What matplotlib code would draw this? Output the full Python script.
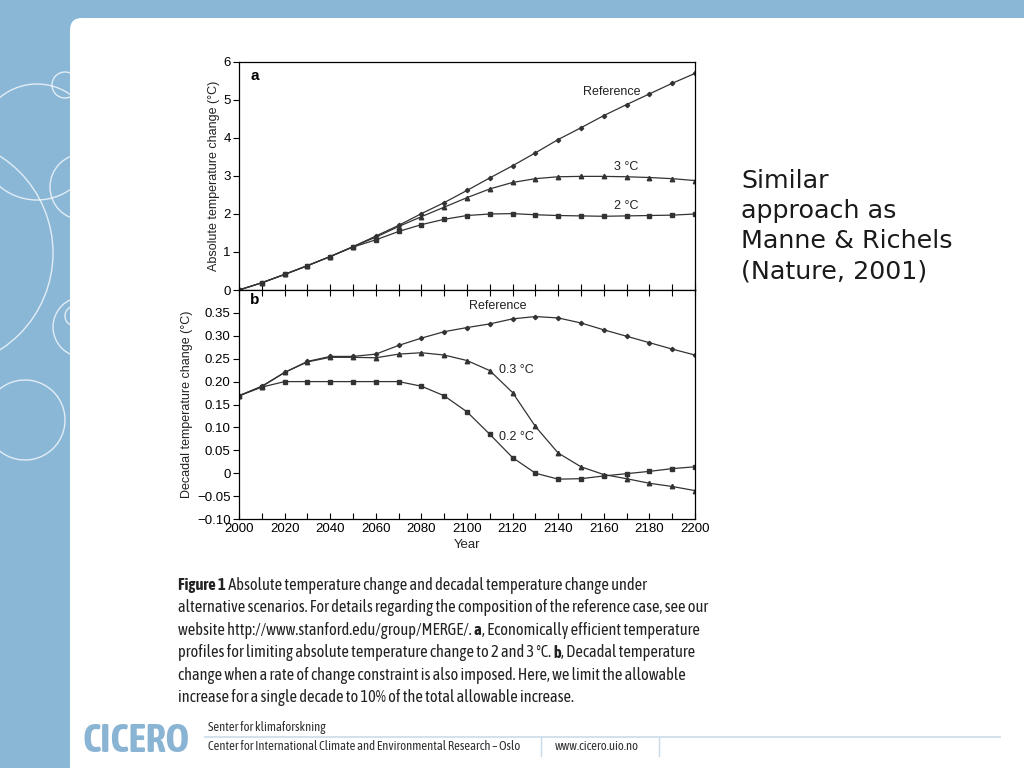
import matplotlib
matplotlib.use("Agg")
import matplotlib.pyplot as plt
from matplotlib import font_manager
from matplotlib.patches import Circle, FancyBboxPatch
from matplotlib.ticker import MultipleLocator, FuncFormatter

# ---- data ----
years = list(range(2000, 2201, 10))

abs_ref = [0, 0.19, 0.41, 0.64, 0.88, 1.14, 1.42, 1.70, 2.01, 2.30, 2.62,
           2.95, 3.27, 3.61, 3.96, 4.27, 4.59, 4.88, 5.16, 5.44, 5.70]
abs_3c = [0, 0.19, 0.41, 0.64, 0.88, 1.14, 1.39, 1.67, 1.93, 2.18, 2.43,
          2.66, 2.83, 2.93, 2.98, 2.99, 2.99, 2.98, 2.96, 2.93, 2.88]
abs_2c = [0, 0.19, 0.41, 0.64, 0.88, 1.13, 1.32, 1.54, 1.72, 1.86, 1.96,
          2.00, 2.01, 1.98, 1.96, 1.95, 1.94, 1.95, 1.96, 1.97, 2.00]

dec_ref = [0.169, 0.190, 0.220, 0.244, 0.255, 0.255, 0.260, 0.279, 0.295, 0.309, 0.318,
           0.326, 0.337, 0.342, 0.339, 0.328, 0.313, 0.299, 0.285, 0.271, 0.258]
dec_03 = [0.169, 0.189, 0.220, 0.243, 0.253, 0.253, 0.252, 0.260, 0.263, 0.258, 0.246,
          0.224, 0.176, 0.102, 0.044, 0.014, -0.003, -0.012, -0.022, -0.029, -0.038]
dec_02 = [0.169, 0.188, 0.200, 0.200, 0.200, 0.200, 0.200, 0.200, 0.190, 0.169, 0.134,
          0.085, 0.034, 0.000, -0.013, -0.012, -0.006, -0.001, 0.004, 0.010, 0.014]

caption = [
    [("Figure 1", "bold"), (" Absolute temperature change and decadal temperature change under", "normal")],
    [("alternative scenarios. For details regarding the composition of the reference case, see our", "normal")],
    [("website http://www.stanford.edu/group/MERGE/. ", "normal"), ("a", "bold"),
     (", Economically efficient temperature", "normal")],
    [("profiles for limiting absolute temperature change to 2 and 3 °C. ", "normal"), ("b", "bold"),
     (", Decadal temperature", "normal")],
    [("change when a rate of change constraint is also imposed. Here, we limit the allowable", "normal")],
    [("increase for a single decade to 10% of the total allowable increase.", "normal")],
]
side_text = ["Similar", "approach as", "Manne & Richels", "(Nature, 2001)"]


# ---- fonts: prefer a condensed face (with a bold weight) if one is installed ----
def wnum(w):
    return w if isinstance(w, (int, float)) else font_manager.weight_dict.get(w, 400)


cands = {}
for f in font_manager.fontManager.ttflist:
    if "Narrow" in f.name or "Condensed" in f.name:
        cands.setdefault(f.name, set()).add(wnum(f.weight))
narrow = "Liberation Sans"
narrow_bold = "Liberation Sans"
bold_scale = 1.0
with_bold = [n for n, ws in cands.items() if max(ws) >= 600 and min(ws) <= 500]
if with_bold:
    narrow = narrow_bold = sorted(with_bold)[0]
elif cands:
    narrow = sorted(cands)[0]
    bold_scale = 0.86
plt.rcParams["font.family"] = ["Liberation Sans", "DejaVu Sans"]

BLUE = "#8bb7d7"
LINE = "#333333"

fig = plt.figure(figsize=(10.24, 7.68), dpi=100)
fig.patch.set_facecolor(BLUE)

# background layer in pixel coordinates
bg = fig.add_axes([0, 0, 1, 1])
bg.set_xlim(0, 1024)
bg.set_ylim(768, 0)
bg.axis("off")

for cx, cy, r in [(65, 85, 13), (37, 142, 58), (-62, 253, 115), (83, 187, 33),
                  (75, 316, 10), (83, 327, 30), (25, 420, 40)]:
    bg.add_patch(Circle((cx, cy), r, fill=False, ec="white", lw=1.0, alpha=0.75))

bg.add_patch(FancyBboxPatch((70, 18), 1100, 900, boxstyle="round,pad=0,rounding_size=12",
                            fc="white", ec="none", zorder=2))

renderer = fig.canvas.get_renderer()


def fam(weight):
    return narrow_bold if weight == "bold" else narrow


def width_of(s, weight, size, family=None):
    t = bg.text(0, 0, s, fontsize=size, family=family or fam(weight), weight=weight)
    w = t.get_window_extent(renderer).width
    t.remove()
    return w


def fit_size(s, target, weight="normal", family=None):
    return 10 * target / width_of(s, weight, 10, family)


# side text
side_size = fit_size("Manne & Richels", 211, family="DejaVu Sans")
for i, s in enumerate(side_text):
    bg.text(741, 181 + i * 30, s, fontsize=side_size, family="DejaVu Sans", color="#1a1a1a",
            va="center", ha="left", zorder=3)

# caption with bold pieces
cap_size = fit_size(caption[1][0][0], 532)
space_w = width_of("a a", "normal", cap_size) - width_of("aa", "normal", cap_size)
for i, parts in enumerate(caption):
    x = 178
    y = 585 + i * 22.6
    for txt, wt in parts:
        size = cap_size * (bold_scale if wt == "bold" else 1.0)
        bg.text(x, y, txt, fontsize=size, family=fam(wt), weight=wt,
                color="#222222", va="center", ha="left", zorder=3)
        stripped = txt.rstrip(" ")
        x += width_of(stripped, wt, size) + (len(txt) - len(stripped)) * space_w

# footer
logo_size = fit_size("CICERO", 107, weight="bold")
bg.text(83, 741, "CICERO", fontsize=logo_size, family=narrow_bold, weight="bold",
        color="#8ab4d4", va="center", ha="left", zorder=3)
foot_line = "Center for International Climate and Environmental Research \u2013 Oslo"
foot_size = fit_size(foot_line, 316)
bg.text(208, 728, "Senter for klimaforskning", fontsize=foot_size, family=narrow,
        color="#333333", va="center", ha="left", zorder=3)
bg.text(208, 747, foot_line, fontsize=foot_size, family=narrow,
        color="#333333", va="center", ha="left", zorder=3)
bg.text(555, 747, "www.cicero.uio.no", fontsize=foot_size, family=narrow,
        color="#333333", va="center", ha="left", zorder=3)
bg.plot([205, 1000], [737, 737], color="#c9dbe8", lw=1.2, zorder=3)
bg.plot([541, 541], [738, 756], color="#c9dbe8", lw=1.0, zorder=3)
bg.plot([659, 659], [738, 756], color="#c9dbe8", lw=1.0, zorder=3)


def px_axes(left, top, right, bottom):
    return fig.add_axes([left / 1024, 1 - bottom / 768, (right - left) / 1024, (bottom - top) / 768])


tick_font = 9.5

# ---- panel a ----
ax1 = px_axes(239, 62, 695, 290)
ax1.set_zorder(5)
ax1.plot(years, abs_ref, color=LINE, lw=0.9, marker="D", ms=2.2)
ax1.plot(years, abs_3c, color=LINE, lw=0.9, marker="^", ms=3.2)
ax1.plot(years, abs_2c, color=LINE, lw=0.9, marker="s", ms=2.8)
ax1.set_xlim(2000, 2200)
ax1.set_ylim(0, 6)
ax1.xaxis.set_major_locator(MultipleLocator(10))
ax1.set_xticklabels([])
ax1.yaxis.set_major_locator(MultipleLocator(1))
ax1.tick_params(axis="x", direction="in", length=4, width=0.8)
ax1.tick_params(axis="y", direction="out", length=4, width=0.8, labelsize=tick_font, pad=2)
ax1.set_ylabel("Absolute temperature change (°C)", fontsize=9, labelpad=2, color="#222222")
ax1.text(0.025, 0.94, "a", transform=ax1.transAxes, fontsize=11, weight="bold", va="center")
ax1.text(2176, 5.22, "Reference", fontsize=9, ha="right", va="center", color="#222222")
ax1.text(2175, 3.23, "3 °C", fontsize=9, ha="right", va="center", color="#222222")
ax1.text(2175, 2.22, "2 °C", fontsize=9, ha="right", va="center", color="#222222")

# ---- panel b ----
ax2 = px_axes(239, 290, 695, 519)
ax2.set_zorder(5)
ax2.plot(years, dec_ref, color=LINE, lw=0.9, marker="D", ms=2.2)
ax2.plot(years, dec_03, color=LINE, lw=0.9, marker="^", ms=3.2)
ax2.plot(years, dec_02, color=LINE, lw=0.9, marker="s", ms=2.8)
ax2.set_xlim(2000, 2200)
ax2.set_ylim(-0.10, 0.40)
ax2.xaxis.set_major_locator(MultipleLocator(20))
ax2.xaxis.set_minor_locator(MultipleLocator(10))
ax2.set_yticks([-0.10, -0.05, 0, 0.05, 0.10, 0.15, 0.20, 0.25, 0.30, 0.35])
ax2.yaxis.set_major_formatter(FuncFormatter(
    lambda v, p: "0" if abs(v) < 1e-9 else f"{v:.2f}".replace("-", "\u2212")))
ax2.tick_params(axis="x", which="both", direction="in", length=4, width=0.8, top=True,
                labelsize=tick_font, pad=3)
ax2.tick_params(axis="y", direction="out", length=4, width=0.8, labelsize=tick_font, pad=2)
ax2.set_xlabel("Year", fontsize=9.5, labelpad=3, color="#222222")
ax2.set_ylabel("Decadal temperature change (°C)", fontsize=9, labelpad=3, color="#222222")
ax2.text(0.025, 0.955, "b", transform=ax2.transAxes, fontsize=11, weight="bold", va="center")
ax2.text(2126, 0.364, "Reference", fontsize=9, ha="right", va="center", color="#222222")
ax2.text(2114, 0.226, "0.3 °C", fontsize=9, ha="left", va="center", color="#222222")
ax2.text(2114, 0.080, "0.2 °C", fontsize=9, ha="left", va="center", color="#222222")

for ax in (ax1, ax2):
    for sp in ax.spines.values():
        sp.set_linewidth(0.9)

fig.savefig("out.png", dpi=100, facecolor=fig.get_facecolor())
